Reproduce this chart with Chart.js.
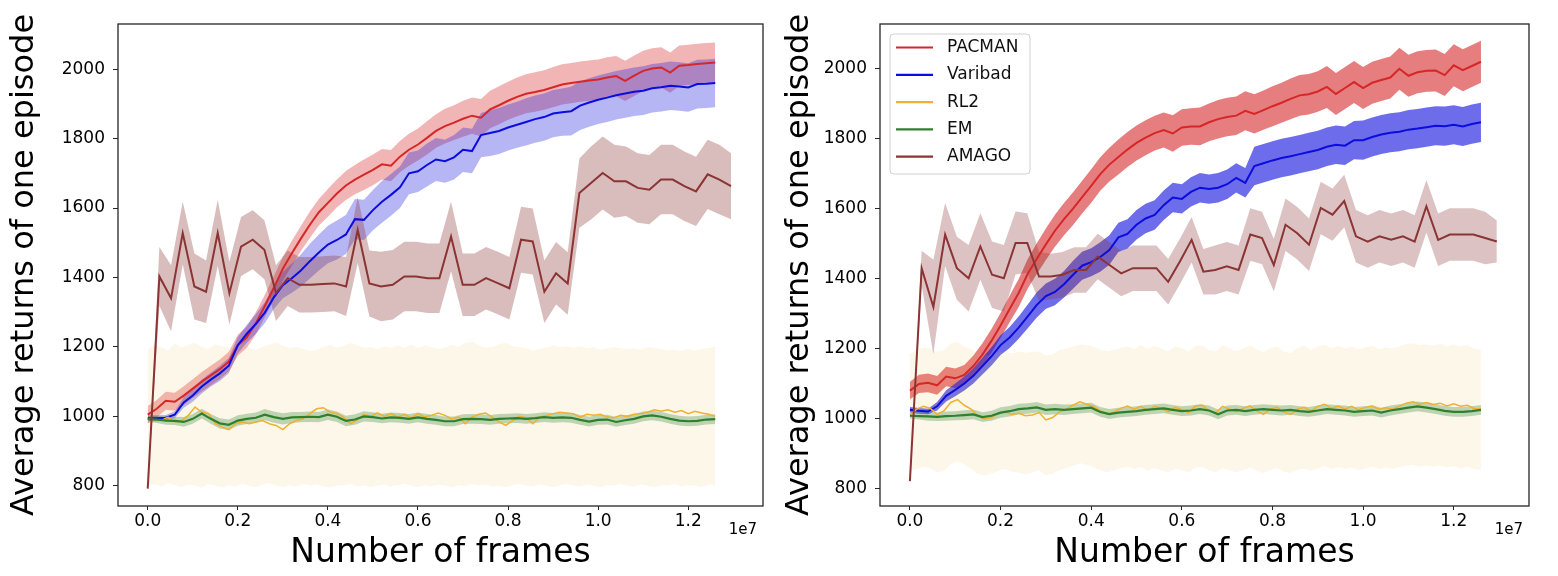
<!DOCTYPE html>
<html>
<head>
<meta charset="utf-8">
<script src="https://cdn.jsdelivr.net/npm/chart.js@4.4.1/dist/chart.umd.min.js"></script>
<style>
  body { margin: 0; background: #fff; }
  #wrap { display: flex; width: 1558px; height: 576px; }
  canvas { display: block; }
</style>
</head>
<body>
<div id="wrap">
  <canvas id="left" width="779" height="576"></canvas>
  <canvas id="right" width="779" height="576"></canvas>
</div>
<script>
// axis ticks (x in units of 1e7 frames)
const X_TICKS = [0, 0.2, 0.4, 0.6, 0.8, 1.0, 1.2];
const Y_TICKS = [800, 1000, 1200, 1400, 1600, 1800, 2000];
const SERIES = ['PACMAN', 'Varibad', 'RL2', 'EM', 'AMAGO'];

// frames between logged points
const STEP_MAIN = 200000;   // PACMAN, Varibad, EM
const STEP_RL2 = 150000;
const STEP_AMAGO = 259000;

// ---- left panel ----
const PACMAN_L = [1005,1022,1045,1042,1060,1080,1100,1118,1136,1158,
  1205,1228,1268,1318,1370,1425,1470,1512,1552,1588,
  1615,1642,1665,1682,1696,1710,1726,1722,1748,1768,
  1783,1802,1822,1836,1846,1857,1866,1860,1884,1896,
  1909,1920,1929,1934,1940,1948,1956,1960,1964,1967,
  1970,1976,1980,1966,1981,1995,2002,2005,1990,2010,
  2012,2015,2017,2019];
const PACMAN_L_SD = [25,25,26,26,27,27,28,28,28,28,
  30,30,32,32,34,34,36,36,38,38,
  40,40,42,42,44,44,44,45,45,46,
  46,48,48,50,50,52,52,54,54,55,
  55,56,56,57,57,58,58,58,58,58,
  58,58,58,58,58,58,58,58,58,58,
  58,58,58,58];
const VARIBAD_L = [995,995,996,1005,1040,1060,1086,1106,1124,1146,
  1205,1238,1266,1299,1343,1378,1398,1420,1447,1472,
  1495,1508,1524,1568,1566,1594,1618,1638,1660,1700,
  1706,1724,1740,1735,1746,1768,1764,1810,1816,1822,
  1832,1840,1848,1856,1862,1872,1876,1879,1895,1904,
  1912,1918,1925,1930,1935,1938,1945,1948,1952,1950,
  1947,1957,1958,1960];
const VARIBAD_L_SD = [8,8,8,10,15,18,20,20,22,22,
  24,26,28,30,34,38,42,46,50,52,
  54,56,56,58,58,58,60,60,60,60,
  60,62,62,62,64,64,64,64,66,66,
  66,66,68,68,68,68,68,70,70,70,
  70,70,70,70,70,70,70,70,70,70,
  70,70,70,70];
const RL2_L = [984,987,988,998,984,987,1003,1027,1012,1008,
  979,969,962,979,984,979,984,988,979,974,
  962,979,988,993,1008,1022,1025,1012,1008,998,
  979,990,1006,1000,1010,1000,1008,998,1006,996,
  1008,998,1003,1010,1003,993,998,979,998,1006,
  1010,998,984,974,988,1000,996,979,998,1003,
  1008,1012,1010,1008,998,1006,1003,1006,998,996,
  1003,1000,1006,1008,1012,1019,1015,1019,1012,1017,
  1008,1015,1010,1006,1000];
const RL2_L_HI = [1195,1205,1200,1190,1210,1198,1205,1212,1200,1195,
  1208,1202,1196,1205,1210,1198,1192,1200,1206,1212,
  1204,1196,1200,1195,1188,1192,1200,1206,1198,1204,
  1212,1205,1198,1200,1194,1202,1196,1204,1198,1208,
  1196,1204,1200,1194,1198,1206,1200,1212,1215,1205,
  1198,1200,1208,1212,1202,1200,1196,1190,1194,1198,
  1205,1200,1202,1198,1202,1196,1200,1192,1196,1200,
  1196,1194,1196,1192,1200,1198,1194,1190,1192,1188,
  1194,1190,1195,1198,1200];
const RL2_L_LO = [800,805,798,808,802,796,804,800,794,806,
  800,795,802,798,806,800,796,804,808,800,
  796,802,798,806,800,804,798,795,802,800,
  806,798,802,796,800,804,798,802,806,800,
  796,802,798,804,800,796,802,798,806,800,
  804,798,800,796,802,806,800,798,804,800,
  796,802,806,800,798,804,800,796,802,800,
  806,800,798,804,800,796,802,800,806,798,
  802,800,796,804,800];
const EM_L = [993,991,988,987,984,993,1008,993,980,976,
  988,993,996,1005,998,993,997,998,999,998,
  1005,999,987,991,1000,998,994,997,996,993,
  997,993,990,986,986,992,993,992,990,993,
  994,995,993,995,998,996,997,996,990,985,
  990,991,984,989,993,1000,1003,999,993,988,
  986,987,991,992];
const EM_L_SD = [8,10,12,12,14,14,14,14,15,15,
  15,15,15,16,16,16,16,15,15,15,
  15,15,15,15,15,14,14,14,14,14,
  14,14,14,14,14,14,14,14,14,14,
  14,14,14,14,14,14,14,14,14,14,
  14,14,14,14,14,14,14,14,14,14,
  14,14,14,14];
const AMAGO_L = [792,1403,1340,1528,1374,1359,1528,1355,1489,1509,
  1480,1355,1398,1379,1379,1381,1383,1374,1537,1383,
  1374,1379,1403,1403,1398,1398,1518,1379,1379,1398,
  1384,1369,1509,1504,1359,1412,1383,1643,1672,1701,
  1677,1677,1658,1653,1682,1682,1663,1648,1697,1682,
  1663];
const AMAGO_L_SD = [0,85,95,90,95,90,95,90,85,85,
  85,80,80,80,80,80,80,85,95,95,
  100,100,100,100,100,100,100,90,90,90,
  90,90,95,95,90,90,90,100,105,105,
  105,100,100,100,100,100,100,100,100,100,
  95];

// ---- right panel ----
const PACMAN_R = [1080,1099,1102,1095,1120,1115,1125,1150,1183,1222,
  1266,1313,1359,1414,1457,1498,1537,1570,1600,1633,
  1665,1699,1726,1748,1769,1788,1803,1816,1825,1815,
  1832,1835,1835,1847,1856,1862,1866,1880,1871,1882,
  1893,1903,1914,1924,1927,1935,1948,1928,1945,1962,
  1945,1960,1968,1975,2000,1980,1990,1994,1995,1982,
  2010,1996,2008,2020];
const PACMAN_R_SD = [25,26,27,27,28,28,28,30,32,34,
  36,38,40,42,44,45,46,46,47,47,
  48,48,48,50,50,50,50,50,50,52,
  52,52,54,54,55,55,55,56,56,56,
  57,57,58,58,58,58,60,60,60,60,
  60,60,60,60,60,60,60,60,60,60,
  60,60,60,60];
const VARIBAD_R = [1025,1022,1020,1035,1065,1082,1100,1122,1150,1178,
  1210,1232,1260,1292,1325,1350,1362,1384,1411,1437,
  1447,1462,1482,1518,1528,1554,1572,1582,1610,1632,
  1628,1648,1660,1656,1660,1670,1688,1674,1722,1730,
  1738,1745,1750,1756,1762,1768,1777,1783,1780,1796,
  1796,1805,1812,1817,1820,1826,1829,1833,1837,1836,
  1840,1835,1842,1847];
const VARIBAD_R_SD = [8,8,8,12,16,18,20,22,24,26,
  28,30,32,34,36,36,38,38,40,40,
  40,42,42,42,42,42,42,42,42,42,
  42,42,42,42,42,42,42,42,55,55,
  55,55,55,55,55,55,55,55,55,55,
  56,56,56,56,56,56,56,56,56,56,
  56,56,56,56];
const RL2_R = [1010,1027,1035,1029,1012,1022,1046,1054,1038,1027,
  1008,998,1003,1015,1019,1012,1015,1008,1010,1017,
  996,1003,1019,1027,1038,1048,1041,1035,1022,1012,
  1019,1029,1036,1027,1035,1022,1035,1029,1019,1032,
  1025,1017,1036,1038,1022,1017,1035,1027,1019,1029,
  1036,1022,1012,1027,1032,1019,1012,1027,1032,1022,
  1035,1041,1029,1036,1027,1035,1025,1032,1036,1027,
  1031,1027,1035,1044,1048,1041,1046,1040,1044,1036,
  1042,1035,1038,1029,1027];
const RL2_R_HI = [1185,1196,1202,1200,1190,1196,1215,1218,1205,1198,
  1186,1180,1184,1190,1190,1186,1192,1188,1190,1192,
  1180,1184,1196,1200,1206,1212,1210,1205,1198,1192,
  1196,1202,1206,1198,1210,1198,1208,1200,1192,1206,
  1202,1192,1208,1208,1196,1192,1210,1202,1192,1200,
  1210,1198,1190,1202,1206,1192,1186,1202,1208,1196,
  1206,1212,1200,1208,1200,1206,1198,1204,1208,1198,
  1204,1200,1206,1214,1215,1210,1212,1208,1214,1206,
  1212,1206,1210,1200,1196];
const RL2_R_LO = [850,856,862,858,846,850,870,878,868,856,
  842,836,842,850,856,848,846,840,846,852,
  838,842,852,858,866,872,868,860,852,846,
  852,858,862,856,862,850,858,852,846,856,
  852,846,860,862,852,846,858,852,846,852,
  860,850,844,852,858,848,844,852,858,850,
  858,864,856,862,856,860,852,858,862,856,
  860,856,862,866,868,862,866,862,866,860,
  864,858,862,856,852];
const EM_R = [1008,1007,1006,1005,1007,1008,1010,1012,1004,1008,
  1017,1021,1027,1029,1032,1025,1027,1025,1027,1029,
  1031,1019,1013,1017,1019,1021,1025,1027,1029,1025,
  1021,1023,1027,1023,1012,1023,1025,1021,1025,1027,
  1025,1023,1025,1021,1019,1023,1027,1025,1023,1019,
  1021,1023,1017,1023,1027,1031,1035,1031,1027,1022,
  1019,1019,1021,1025];
const EM_R_SD = [8,10,12,12,13,13,14,14,14,14,
  15,15,15,15,15,15,15,15,14,14,
  14,14,14,14,14,14,14,14,14,14,
  14,14,14,14,14,14,14,14,14,14,
  14,14,14,14,14,14,14,14,14,14,
  14,14,14,14,14,14,14,14,14,14,
  14,14,14,14];
const AMAGO_R = [821,1430,1319,1526,1430,1401,1492,1411,1401,1502,
  1502,1406,1406,1411,1425,1425,1463,1439,1415,1430,
  1430,1430,1391,1449,1511,1420,1425,1435,1425,1526,
  1516,1439,1554,1530,1497,1602,1583,1622,1521,1506,
  1521,1511,1521,1506,1607,1511,1526,1526,1526,1516,
  1506];
const AMAGO_R_SD = [0,50,135,90,90,95,95,95,95,90,
  85,70,65,65,65,65,65,65,65,65,
  65,65,65,65,65,65,70,70,70,75,
  75,75,75,75,75,75,75,75,75,75,
  75,75,75,75,75,75,75,75,75,75,
  60];

const COLORS = {
  PACMAN: [214, 39, 40],
  Varibad: [12, 12, 222],
  RL2: [240, 176, 48],
  EM: [46, 128, 46],
  AMAGO: [139, 52, 52]
};
const LINE_W = { PACMAN: 2, Varibad: 2, RL2: 1.5, EM: 2.2, AMAGO: 2 };

Chart.defaults.font.family = "'DejaVu Sans', sans-serif";
Chart.defaults.color = '#000';

function rgba(c, a) {
  return 'rgba(' + c[0] + ',' + c[1] + ',' + c[2] + ',' + a + ')';
}

function xy(vals, step) {
  return vals.map((v, i) => ({ x: i * step, y: v }));
}

// lower / upper edge of the shaded band: explicit edges, or mean -/+ sd
function edge(s, side) {
  if (s.lo) return side < 0 ? s.lo : s.hi;
  return s.y.map((v, i) => v + side * s.sd[i]);
}

// full box around the plot area, like matplotlib spines
const frame = {
  id: 'frame',
  afterDatasetsDraw(chart) {
    const a = chart.chartArea, ctx = chart.ctx;
    ctx.save();
    ctx.strokeStyle = '#262626';
    ctx.lineWidth = 1.3;
    ctx.strokeRect(a.left, a.top, a.right - a.left, a.bottom - a.top);
    ctx.restore();
  },
  afterDraw(chart) {
    const a = chart.chartArea, ctx = chart.ctx;
    ctx.save();
    ctx.font = "15px 'DejaVu Sans'";
    ctx.fillStyle = '#000';
    ctx.textAlign = 'right';
    ctx.textBaseline = 'middle';
    ctx.fillText('1e7', a.right - 6, 530);
    ctx.restore();
  }
};

const boxLegend = {
  id: 'boxLegend',
  afterDraw(chart) {
    const a = chart.chartArea, ctx = chart.ctx;
    const x0 = a.left + 10, y0 = a.top + 10, w = 140, h = 140;
    ctx.save();
    ctx.fillStyle = 'rgba(255,255,255,0.8)';
    ctx.strokeStyle = '#d0d0d0';
    ctx.lineWidth = 1;
    ctx.beginPath();
    ctx.roundRect(x0, y0, w, h, 4);
    ctx.fill();
    ctx.stroke();
    ctx.font = "17px 'DejaVu Sans'";
    ctx.textBaseline = 'middle';
    ctx.textAlign = 'left';
    SERIES.forEach((name, k) => {
      const y = y0 + 13.5 + k * 27.3;
      ctx.strokeStyle = rgba(COLORS[name], 1);
      ctx.lineWidth = 2.2;
      ctx.beginPath();
      ctx.moveTo(x0 + 6, y);
      ctx.lineTo(x0 + 43, y);
      ctx.stroke();
      ctx.fillStyle = '#111';
      ctx.fillText(name, x0 + 57, y);
    });
    ctx.restore();
  }
};

function panel(id, data, alpha, cfg) {
  const bands = [], lines = [];
  SERIES.forEach((name, k) => {
    const s = data[name];
    bands.push({ data: xy(edge(s, -1), s.step), borderWidth: 0, borderColor: 'transparent',
      pointRadius: 0, fill: false, order: 20 - k });
    bands.push({ data: xy(edge(s, 1), s.step), borderWidth: 0, borderColor: 'transparent',
      pointRadius: 0, fill: '-1', backgroundColor: rgba(COLORS[name], alpha[name]), order: 20 - k });
    lines.push({ label: name, data: xy(s.y, s.step), borderColor: rgba(COLORS[name], 1),
      borderWidth: LINE_W[name], pointRadius: 0, fill: false, tension: 0, order: 10 - k });
  });

  return new Chart(document.getElementById(id), {
    type: 'line',
    data: { datasets: bands.concat(lines) },
    plugins: cfg.legend ? [frame, boxLegend] : [frame],
    options: {
      responsive: false,
      animation: false,
      devicePixelRatio: 1,
      events: [],
      layout: { autoPadding: false, padding: { left: 0, right: cfg.padRight, top: 24, bottom: 0 } },
      plugins: { legend: { display: false }, tooltip: { enabled: false } },
      scales: {
        x: {
          type: 'linear',
          min: -660000,
          max: 13660000,
          afterBuildTicks: s => { s.ticks = X_TICKS.map(v => ({ value: v * 1e7 })); },
          afterFit: s => { s.height = 70; },
          ticks: { font: { size: 17 }, padding: 1, maxRotation: 0,
            callback: v => (v / 1e7).toFixed(1) },
          grid: { drawOnChartArea: false, drawTicks: true, tickLength: 4, color: '#262626' },
          border: { display: false },
          title: { display: true, text: 'Number of frames', font: { size: 33 },
            padding: { top: 0, bottom: 3 } }
        },
        y: {
          type: 'linear',
          min: cfg.yMin,
          max: cfg.yMax,
          afterBuildTicks: s => { s.ticks = Y_TICKS.map(v => ({ value: v })); },
          afterFit: s => { s.width = cfg.axisWidth; },
          ticks: { font: { size: 17 }, padding: 8, callback: v => String(v) },
          grid: { drawOnChartArea: false, drawTicks: true, tickLength: 5, color: '#262626' },
          border: { display: false },
          title: { display: true, text: 'Average returns of one episode', font: { size: 32 },
            padding: { top: cfg.titlePad, bottom: 0 } }
        }
      }
    }
  });
}

panel('left', {
  PACMAN: { y: PACMAN_L, sd: PACMAN_L_SD, step: STEP_MAIN },
  Varibad: { y: VARIBAD_L, sd: VARIBAD_L_SD, step: STEP_MAIN },
  RL2: { y: RL2_L, lo: RL2_L_LO, hi: RL2_L_HI, step: STEP_RL2 },
  EM: { y: EM_L, sd: EM_L_SD, step: STEP_MAIN },
  AMAGO: { y: AMAGO_L, sd: AMAGO_L_SD, step: STEP_AMAGO }
}, { PACMAN: 0.34, Varibad: 0.3, RL2: 0.1, EM: 0.3, AMAGO: 0.33 },
{ padRight: 16, axisWidth: 118, titlePad: 5, yMin: 742, yMax: 2130, legend: false });

panel('right', {
  PACMAN: { y: PACMAN_R, sd: PACMAN_R_SD, step: STEP_MAIN },
  Varibad: { y: VARIBAD_R, sd: VARIBAD_R_SD, step: STEP_MAIN },
  RL2: { y: RL2_R, lo: RL2_R_LO, hi: RL2_R_HI, step: STEP_RL2 },
  EM: { y: EM_R, sd: EM_R_SD, step: STEP_MAIN },
  AMAGO: { y: AMAGO_R, sd: AMAGO_R_SD, step: STEP_AMAGO }
}, { PACMAN: 0.6, Varibad: 0.6, RL2: 0.1, EM: 0.3, AMAGO: 0.3 },
{ padRight: 29, axisWidth: 101, titlePad: 1, yMin: 750, yMax: 2128, legend: true });
</script>
</body>
</html>
